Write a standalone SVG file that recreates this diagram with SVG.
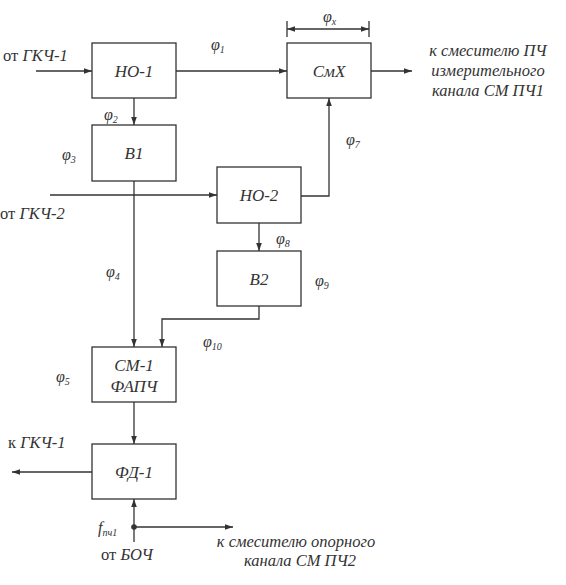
<svg xmlns="http://www.w3.org/2000/svg" width="566" height="585" viewBox="0 0 566 585">
<style>
.box{fill:#fff;stroke:#333;stroke-width:1.3}
.lbl{font-family:'Liberation Serif','Times New Roman',serif;font-style:italic;font-size:17px;fill:#333;text-anchor:middle}
.txt{font-family:'Liberation Serif','Times New Roman',serif;font-style:italic;font-size:16.5px;fill:#333}
.up{font-style:normal}
.phi{font-family:'Liberation Serif','Times New Roman',serif;font-style:italic;font-size:16px;fill:#333}
.sub{font-size:10px}
.ln{fill:none;stroke:#333;stroke-width:1.3}
</style>
<defs>
<marker id="ar" viewBox="0 0 10 10" refX="10" refY="5" markerWidth="8" markerHeight="8" markerUnits="userSpaceOnUse" orient="auto">
<path d="M0,1.5 L10,5 L0,8.5 Z" fill="#333"/>
</marker>
</defs>
<rect width="566" height="585" fill="#fff"/>

<g id="connectors">
<line class="ln" x1="36" y1="71" x2="92" y2="71" marker-end="url(#ar)"/>
<line class="ln" x1="176" y1="71" x2="287" y2="71" marker-end="url(#ar)"/>
<line class="ln" x1="371" y1="71" x2="412" y2="71" marker-end="url(#ar)"/>
<line class="ln" x1="134" y1="98" x2="134" y2="125" marker-end="url(#ar)"/>
<line class="ln" x1="134" y1="181" x2="134" y2="347" marker-end="url(#ar)"/>
<line class="ln" x1="50" y1="195" x2="217" y2="195" marker-end="url(#ar)"/>
<polyline class="ln" points="301,196 329,196 329,98" marker-end="url(#ar)"/>
<line class="ln" x1="259" y1="223" x2="259" y2="251" marker-end="url(#ar)"/>
<polyline class="ln" points="259,306 259,319 162,319 162,347" marker-end="url(#ar)"/>
<line class="ln" x1="134" y1="402" x2="134" y2="444" marker-end="url(#ar)"/>
<line class="ln" x1="92" y1="472" x2="12" y2="472" marker-end="url(#ar)"/>
<line class="ln" x1="134" y1="542" x2="134" y2="499" marker-end="url(#ar)"/>
<line class="ln" x1="134" y1="527" x2="233" y2="527" marker-end="url(#ar)"/>
<circle cx="134" cy="527" r="2.8" fill="#333"/>
<line class="ln" x1="287" y1="21" x2="287" y2="37"/>
<line class="ln" x1="369" y1="21" x2="369" y2="37"/>
<line class="ln" x1="295" y1="29" x2="287" y2="29" marker-end="url(#ar)"/>
<line class="ln" x1="290" y1="29" x2="369" y2="29" marker-end="url(#ar)"/>
</g>

<g id="HO1"><rect class="box" x="92" y="43" width="84" height="55"/><text class="lbl" x="134" y="77">НО-1</text></g>
<g id="B1"><rect class="box" x="92" y="125" width="84" height="56"/><text class="lbl" x="134" y="159">В1</text></g>
<g id="CmX"><rect class="box" x="287" y="43" width="84" height="55"/><text class="lbl" x="329" y="77">СмХ</text></g>
<g id="HO2"><rect class="box" x="217" y="167" width="84" height="56"/><text class="lbl" x="259" y="201">НО-2</text></g>
<g id="B2"><rect class="box" x="217" y="251" width="84" height="55"/><text class="lbl" x="259" y="285">В2</text></g>
<g id="CM1"><rect class="box" x="92" y="347" width="84" height="55"/><text class="lbl" x="134" y="371">СМ-1</text><text class="lbl" x="134" y="392">ФАПЧ</text></g>
<g id="FD1"><rect class="box" x="92" y="444" width="84" height="55"/><text class="lbl" x="134" y="478">ФД-1</text></g>

<g id="labels">
<text class="txt" x="3" y="61"><tspan class="up">от</tspan> ГКЧ-1</text>
<text class="txt" x="0" y="219"><tspan class="up">от</tspan> ГКЧ-2</text>
<text class="txt" x="8" y="448"><tspan class="up">к</tspan> ГКЧ-1</text>
<text class="txt" x="101" y="560"><tspan class="up">от</tspan> БОЧ</text>
<text class="txt" x="488" y="56" text-anchor="middle">к смесителю ПЧ</text>
<text class="txt" x="488" y="76" text-anchor="middle">измерительного</text>
<text class="txt" x="488" y="96" text-anchor="middle">канала СМ ПЧ1</text>
<text class="txt" x="296" y="547" text-anchor="middle">к смесителю опорного</text>
<text class="txt" x="300" y="566" text-anchor="middle">канала СМ ПЧ2</text>
<text class="phi" x="211" y="50">φ<tspan class="sub" dy="3">1</tspan></text>
<text class="phi" x="104" y="120">φ<tspan class="sub" dy="3">2</tspan></text>
<text class="phi" x="62" y="160">φ<tspan class="sub" dy="3">3</tspan></text>
<text class="phi" x="106" y="277">φ<tspan class="sub" dy="3">4</tspan></text>
<text class="phi" x="56" y="382">φ<tspan class="sub" dy="3">5</tspan></text>
<text class="phi" x="346" y="145">φ<tspan class="sub" dy="3">7</tspan></text>
<text class="phi" x="276" y="244">φ<tspan class="sub" dy="3">8</tspan></text>
<text class="phi" x="315" y="286">φ<tspan class="sub" dy="3">9</tspan></text>
<text class="phi" x="203" y="347">φ<tspan class="sub" dy="3">10</tspan></text>
<text class="phi" x="323" y="22">φ<tspan class="sub" dy="3">x</tspan></text>
<text class="phi" x="98" y="533">f<tspan class="sub" dy="3">пч1</tspan></text>
</g>
</svg>
